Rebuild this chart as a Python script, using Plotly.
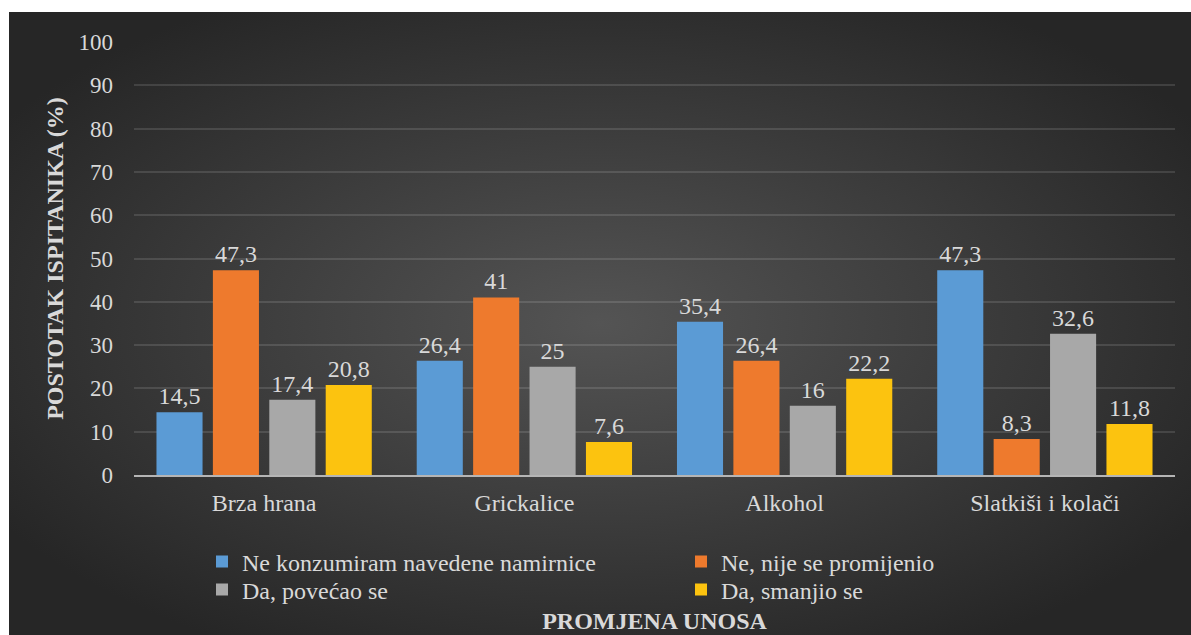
import base64
import plotly.graph_objects as go

categories = ["Brza hrana", "Grickalice", "Alkohol", "Slatkiši i kolači"]
series_names = [
    "Ne konzumiram navedene namirnice",
    "Ne, nije se promijenio",
    "Da, povećao se",
    "Da, smanjio se",
]
ne_konzumiram = [14.5, 26.4, 35.4, 47.3]
nije_promijenio = [47.3, 41, 26.4, 8.3]
povecao = [17.4, 25, 16, 32.6]
smanjio = [20.8, 7.6, 22.2, 11.8]
y_ticks = [0, 10, 20, 30, 40, 50, 60, 70, 80, 90, 100]

series_values = [ne_konzumiram, nije_promijenio, povecao, smanjio]
colors = ["#5b9bd5", "#ee7a2d", "#a8a8a8", "#fcc30f"]
legend_ids = ["legend", "legend", "legend2", "legend2"]

W, H = 1191, 635
L, R, T, B = 134, 16, 42, 160
pw, ph = W - L - R, H - T - B

svg = (
    '<svg xmlns="http://www.w3.org/2000/svg" width="1182" height="623" '
    'preserveAspectRatio="none" viewBox="0 0 1182 623">'
    '<defs><radialGradient id="g" cx="50%" cy="50%" r="60%">'
    '<stop offset="0%" stop-color="#545454"/>'
    '<stop offset="100%" stop-color="#262626"/>'
    '</radialGradient></defs>'
    '<rect width="1182" height="623" fill="url(#g)"/></svg>'
)
bg_src = "data:image/svg+xml;base64," + base64.b64encode(svg.encode()).decode()

font_family = "Liberation Serif, Times New Roman, serif"
txt_color = "#d9d9d9"


def px_x(px):
    return (px - L) / pw


def px_y(py):
    return 1 - (py - T) / ph


fig = go.Figure()
for name, vals, col, lg in zip(series_names, series_values, colors, legend_ids):
    fig.add_trace(go.Bar(
        x=categories,
        y=vals,
        name=name,
        legend=lg,
        marker=dict(color=col, line=dict(width=0)),
        text=[str(v).replace(".", ",") for v in vals],
        textposition="outside",
        textfont=dict(family=font_family, size=24, color=txt_color),
        cliponaxis=False,
    ))

legend_common = dict(
    orientation="h",
    xanchor="left",
    yanchor="middle",
    entrywidth=434,
    entrywidthmode="pixels",
    font=dict(family=font_family, size=24, color=txt_color),
    bgcolor="rgba(0,0,0,0)",
    itemwidth=30,
)

fig.update_layout(
    width=W,
    height=H,
    margin=dict(l=L, r=R, t=T, b=B, autoexpand=False),
    paper_bgcolor="white",
    plot_bgcolor="rgba(0,0,0,0)",
    barmode="group",
    bargap=0.133,
    bargroupgap=0.183,
    font=dict(family=font_family, size=24, color=txt_color),
    images=[dict(
        source=bg_src,
        xref="paper", yref="paper",
        x=px_x(9), y=px_y(12),
        sizex=1182 / pw, sizey=623 / ph,
        xanchor="left", yanchor="top",
        sizing="stretch",
        layer="below",
    )],
    showlegend=True,
    legend=dict(legend_common, x=px_x(202), y=px_y(562)),
    legend2=dict(legend_common, x=px_x(202), y=px_y(590)),
    xaxis=dict(
        showgrid=False,
        showline=True,
        linecolor="#b5b5b5",
        linewidth=2,
        ticks="",
        ticklabelstandoff=5,
        tickfont=dict(family=font_family, size=24, color=txt_color),
        title=dict(
            text="<b>PROMJENA UNOSA</b>",
            font=dict(family=font_family, size=24, color=txt_color),
            standoff=97,
        ),
        automargin=False,
    ),
    yaxis=dict(
        range=[0, 100],
        tickvals=y_ticks,
        showgrid=True,
        gridcolor="rgba(255,255,255,0.12)",
        gridwidth=2,
        zeroline=False,
        ticks="",
        ticklabelstandoff=20,
        tickfont=dict(family=font_family, size=23, color=txt_color),
        title=dict(
            text="<b>POSTOTAK ISPITANIKA (%)</b>",
            font=dict(family=font_family, size=24, color=txt_color),
            standoff=8,
        ),
        automargin=False,
    ),
)

fig.write_html(
    "out.html",
    config={"displayModeBar": False},
    post_script="document.body.style.margin='0';",
)
